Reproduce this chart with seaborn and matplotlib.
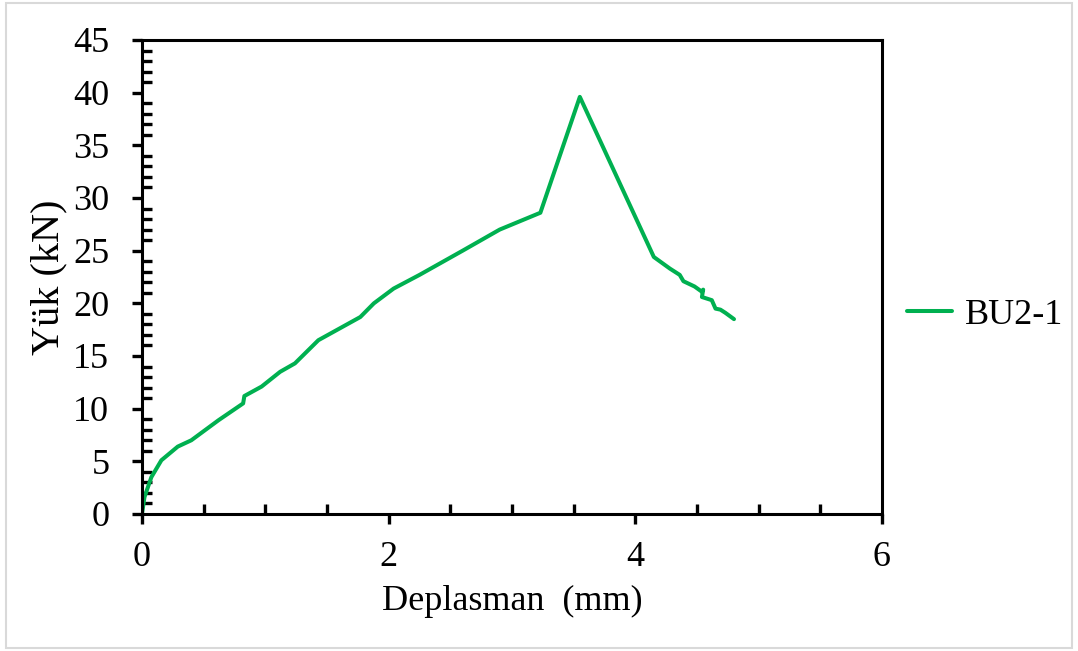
import matplotlib
matplotlib.use("Agg")
import matplotlib.pyplot as plt
import matplotlib.patches as patches
from matplotlib.ticker import MultipleLocator
import numpy as np
import pandas as pd
import seaborn as sns

# BU2-1 load-displacement curve
deplasman = [0.0, 0.02, 0.076, 0.157, 0.29, 0.40, 0.62, 0.82, 0.83, 0.97,
             1.12, 1.24, 1.43, 1.77, 1.88, 2.04, 2.25, 2.60, 2.90, 3.23,
             3.55, 4.15, 4.28, 4.36, 4.39, 4.48, 4.54, 4.55, 4.54, 4.62,
             4.65, 4.69, 4.73, 4.80]
yuk = [0.0, 1.6, 3.5, 5.1, 6.4, 7.0, 8.9, 10.5, 11.2, 12.1,
       13.5, 14.3, 16.5, 18.7, 20.0, 21.4, 22.7, 25.0, 27.0, 28.6,
       39.6, 24.4, 23.3, 22.7, 22.1, 21.6, 21.1, 21.3, 20.6, 20.3,
       19.5, 19.4, 19.1, 18.5]
seri = "BU2-1"

df = pd.DataFrame({"Deplasman": deplasman, "Yuk": yuk, "Seri": seri})

sns.set_style("white")
plt.rcParams["font.family"] = ["Liberation Serif", "DejaVu Serif"]
plt.rcParams["text.color"] = "black"
plt.rcParams["axes.labelcolor"] = "black"

fig = plt.figure(figsize=(10.78, 6.51), dpi=100)
ax = fig.add_axes([142 / 1078, 1 - 514 / 651, 740 / 1078, 474 / 651])

sns.lineplot(data=df, x="Deplasman", y="Yuk", hue="Seri", palette=["#00B050"],
             sort=False, estimator=None, linewidth=2.9, ax=ax)

ax.set_xlim(0, 6)
ax.set_ylim(0, 45)
ax.xaxis.set_major_locator(MultipleLocator(2))
ax.xaxis.set_minor_locator(MultipleLocator(0.5))
ax.yaxis.set_major_locator(MultipleLocator(5))
ax.yaxis.set_minor_locator(MultipleLocator(1))

for s in ax.spines.values():
    s.set_color("black")
    s.set_linewidth(2.2)

ax.tick_params(axis="both", which="both", bottom=True, left=True, top=False, right=False,
               color="black", width=2.4)
ax.tick_params(axis="both", which="major", direction="out", length=7.5,
               labelsize=26, labelcolor="black")
ax.tick_params(axis="both", which="minor", direction="in", length=7)
ax.tick_params(axis="y", which="major", pad=16)
ax.tick_params(axis="x", which="major", pad=12)

ax.set_xlabel("Deplasman  (mm)", fontsize=26, labelpad=8)
ax.set_ylabel("Yük (kN)", fontsize=29, labelpad=4)

leg = ax.legend(loc="center left", bbox_to_anchor=(1.0, 0.42), frameon=False,
                fontsize=26, handlelength=1.25, handletextpad=0.35, borderaxespad=0.3)
for t in leg.get_texts():
    t.set_color("black")

fig.patches.append(patches.Rectangle((6 / 1078, 3 / 651), 1066 / 1078, 645 / 651,
                                     transform=fig.transFigure, fill=False,
                                     edgecolor="#d9d9d9", linewidth=1.5))

fig.savefig("out.png", dpi=100)
